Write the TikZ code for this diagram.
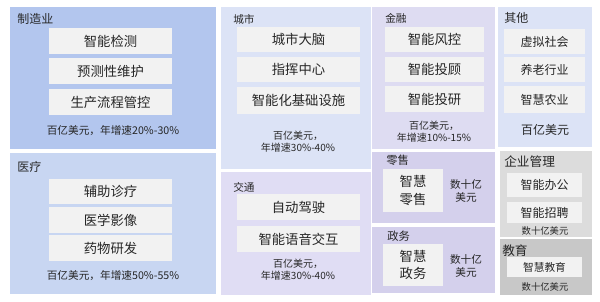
\documentclass[tikz,border=0pt]{standalone}
\usepackage{fontspec}
\setmainfont{Noto Sans CJK SC}
\usetikzlibrary{fit}
\definecolor{cMfg}{HTML}{B3C6EE}
\definecolor{cMed}{HTML}{C8D6F2}
\definecolor{cCity}{HTML}{DCE3F6}
\definecolor{cTraf}{HTML}{E0DDF4}
\definecolor{cFin}{HTML}{DEDCF2}
\definecolor{cRet}{HTML}{D4D0EC}
\definecolor{cEnt}{HTML}{DCDCDC}
\definecolor{cEdu}{HTML}{C8C8C8}
\definecolor{cBox}{HTML}{F2F2F2}
\definecolor{cTxt}{HTML}{262626}
\begin{document}
\begin{tikzpicture}[x=0.75pt,y=-0.75pt,
  panel/.style={inner sep=0pt,outer sep=0pt,draw=none},
  ibox/.style={inner sep=0pt,outer sep=0pt,fill=cBox},
  itxt/.style={inner sep=0pt,text=cTxt,align=center},
  ttl/.style={anchor=west,inner sep=0pt,text=cTxt},
  note/.style={inner sep=0pt,text=cTxt,align=center},
  every node/.style={font=\fontsize{10pt}{12pt}\selectfont}]
\useasboundingbox[fill=white] (0,0) rectangle (600,301);
% panels
\node[panel,fill=cMfg,fit={(10,7) (216,149)}] (mfg) {};
\node[panel,fill=cMed,fit={(10,153) (216,294)}] (med) {};
\node[panel,fill=cCity,fit={(221,7) (371,169)}] (city) {};
\node[panel,fill=cTraf,fit={(221,172) (371,295)}] (traf) {};
\node[panel,fill=cFin,fit={(372,7) (495,149)}] (fin) {};
\node[panel,fill=cRet,fit={(372,152) (495,223)}] (ret) {};
\node[panel,fill=cRet,fit={(372,227) (495,293)}] (gov) {};
\node[panel,fill=cCity,fit={(498,7) (592,147)}] (oth) {};
\node[panel,fill=cEnt,fit={(500,151) (592,237)}] (ent) {};
\node[panel,fill=cEdu,fit={(500,239) (592,295)}] (edu) {};
% titles
\node[ttl,font=\fontsize{9pt}{11pt}\selectfont] (tmfg) at (17,19) {制造业};
\node[ttl,font=\fontsize{9pt}{11pt}\selectfont] (tmed) at (17,167) {医疗};
\node[ttl,font=\fontsize{8pt}{10pt}\selectfont] (tcity) at (233,19) {城市};
\node[ttl,font=\fontsize{8pt}{10pt}\selectfont] (ttraf) at (233,187) {交通};
\node[ttl,font=\fontsize{8pt}{10pt}\selectfont] (tfin) at (385,18) {金融};
\node[ttl,font=\fontsize{8.5pt}{10pt}\selectfont] (tret) at (386,160) {零售};
\node[ttl,font=\fontsize{8.5pt}{10pt}\selectfont] (tgov) at (387,236) {政务};
\node[ttl,font=\fontsize{9pt}{11pt}\selectfont] (toth) at (504,18) {其他};
\node[ttl,font=\fontsize{9.5pt}{11pt}\selectfont] (tent) at (504,162) {企业管理};
\node[ttl,font=\fontsize{9.5pt}{11pt}\selectfont] (tedu) at (502,251) {教育};
% manufacturing
\node[ibox,fit={(49,28) (172,54)}] (m1) {};
\node[itxt] at (m1.center) {智能检测};
\node[ibox,fit={(49,58) (172,84)}] (m2) {};
\node[itxt] at (m2.center) {预测性维护};
\node[ibox,fit={(49,89) (172,115)}] (m3) {};
\node[itxt] at (m3.center) {生产流程管控};
\node[note,font=\fontsize{8pt}{10pt}\selectfont] (mn) at (113,131) {百亿美元，年增速20\%-30\%};
% medical
\node[ibox,fit={(49,179) (172,204)}] (d1) {};
\node[itxt] at (d1.center) {辅助诊疗};
\node[ibox,fit={(49,207) (172,233)}] (d2) {};
\node[itxt] at (d2.center) {医学影像};
\node[ibox,fit={(49,235) (172,261)}] (d3) {};
\node[itxt] at (d3.center) {药物研发};
\node[note,font=\fontsize{8pt}{10pt}\selectfont] (dn) at (113,276) {百亿美元，年增速50\%-55\%};
% city
\node[ibox,fit={(237,27) (360,52)}] (c1) {};
\node[itxt] at (c1.center) {城市大脑};
\node[ibox,fit={(237,57) (360,82)}] (c2) {};
\node[itxt] at (c2.center) {指挥中心};
\node[ibox,fit={(237,87) (360,114)}] (c3) {};
\node[itxt] at (c3.center) {智能化基础设施};
\node[note,font=\fontsize{7.5pt}{9pt}\selectfont] (cn) at (298,141.5) {百亿美元，\\年增速30\%-40\%};
% traffic
\node[ibox,fit={(237,194) (360,220)}] (r1) {};
\node[itxt] at (r1.center) {自动驾驶};
\node[ibox,fit={(237,226) (360,252)}] (r2) {};
\node[itxt] at (r2.center) {智能语音交互};
\node[note,font=\fontsize{7.5pt}{9pt}\selectfont] (rn) at (298,270) {百亿美元，\\年增速30\%-40\%};
% finance
\node[ibox,fit={(385,27) (484,52)}] (f1) {};
\node[itxt] at (f1.center) {智能风控};
\node[ibox,fit={(385,57) (484,82)}] (f2) {};
\node[itxt] at (f2.center) {智能投顾};
\node[ibox,fit={(385,86) (484,112)}] (f3) {};
\node[itxt] at (f3.center) {智能投研};
\node[note,font=\fontsize{7.5pt}{9pt}\selectfont] (fn) at (434,132) {百亿美元，\\年增速10\%-15\%};
% retail
\node[ibox,fit={(383,169) (443,212)}] (rt1) {};
\node[itxt,font=\fontsize{10pt}{13pt}\selectfont] at (rt1.center) {智慧\\零售};
\node[note,font=\fontsize{8pt}{10pt}\selectfont] (rtn) at (466,191) {数十亿\\美元};
% government
\node[ibox,fit={(383,244) (443,286)}] (g1) {};
\node[itxt,font=\fontsize{10pt}{13pt}\selectfont] at (g1.center) {智慧\\政务};
\node[note,font=\fontsize{8pt}{10pt}\selectfont] (gn) at (466,266) {数十亿\\美元};
% other
\node[ibox,fit={(504,29) (585,54)}] (o1) {};
\node[itxt,font=\fontsize{9pt}{11pt}\selectfont] at (o1.center) {虚拟社会};
\node[ibox,fit={(504,57) (585,82)}] (o2) {};
\node[itxt,font=\fontsize{9pt}{11pt}\selectfont] at (o2.center) {养老行业};
\node[ibox,fit={(504,86) (585,113)}] (o3) {};
\node[itxt,font=\fontsize{9pt}{11pt}\selectfont] at (o3.center) {智慧农业};
\node[note,font=\fontsize{9pt}{11pt}\selectfont] (on) at (545,130) {百亿美元};
% enterprise
\node[ibox,fit={(507,173) (582,197)}] (e1) {};
\node[itxt,font=\fontsize{9pt}{11pt}\selectfont] at (e1.center) {智能办公};
\node[ibox,fit={(507,202) (582,223)}] (e2) {};
\node[itxt,font=\fontsize{9pt}{11pt}\selectfont] at (e2.center) {智能招聘};
\node[note,font=\fontsize{7pt}{9pt}\selectfont] (en) at (545,231) {数十亿美元};
% education
\node[ibox,fit={(507,257) (582,277)}] (u1) {};
\node[itxt,font=\fontsize{8pt}{10pt}\selectfont] at (u1.center) {智慧教育};
\node[note,font=\fontsize{7pt}{9pt}\selectfont] (un) at (545,287) {数十亿美元};
\end{tikzpicture}
\end{document}
